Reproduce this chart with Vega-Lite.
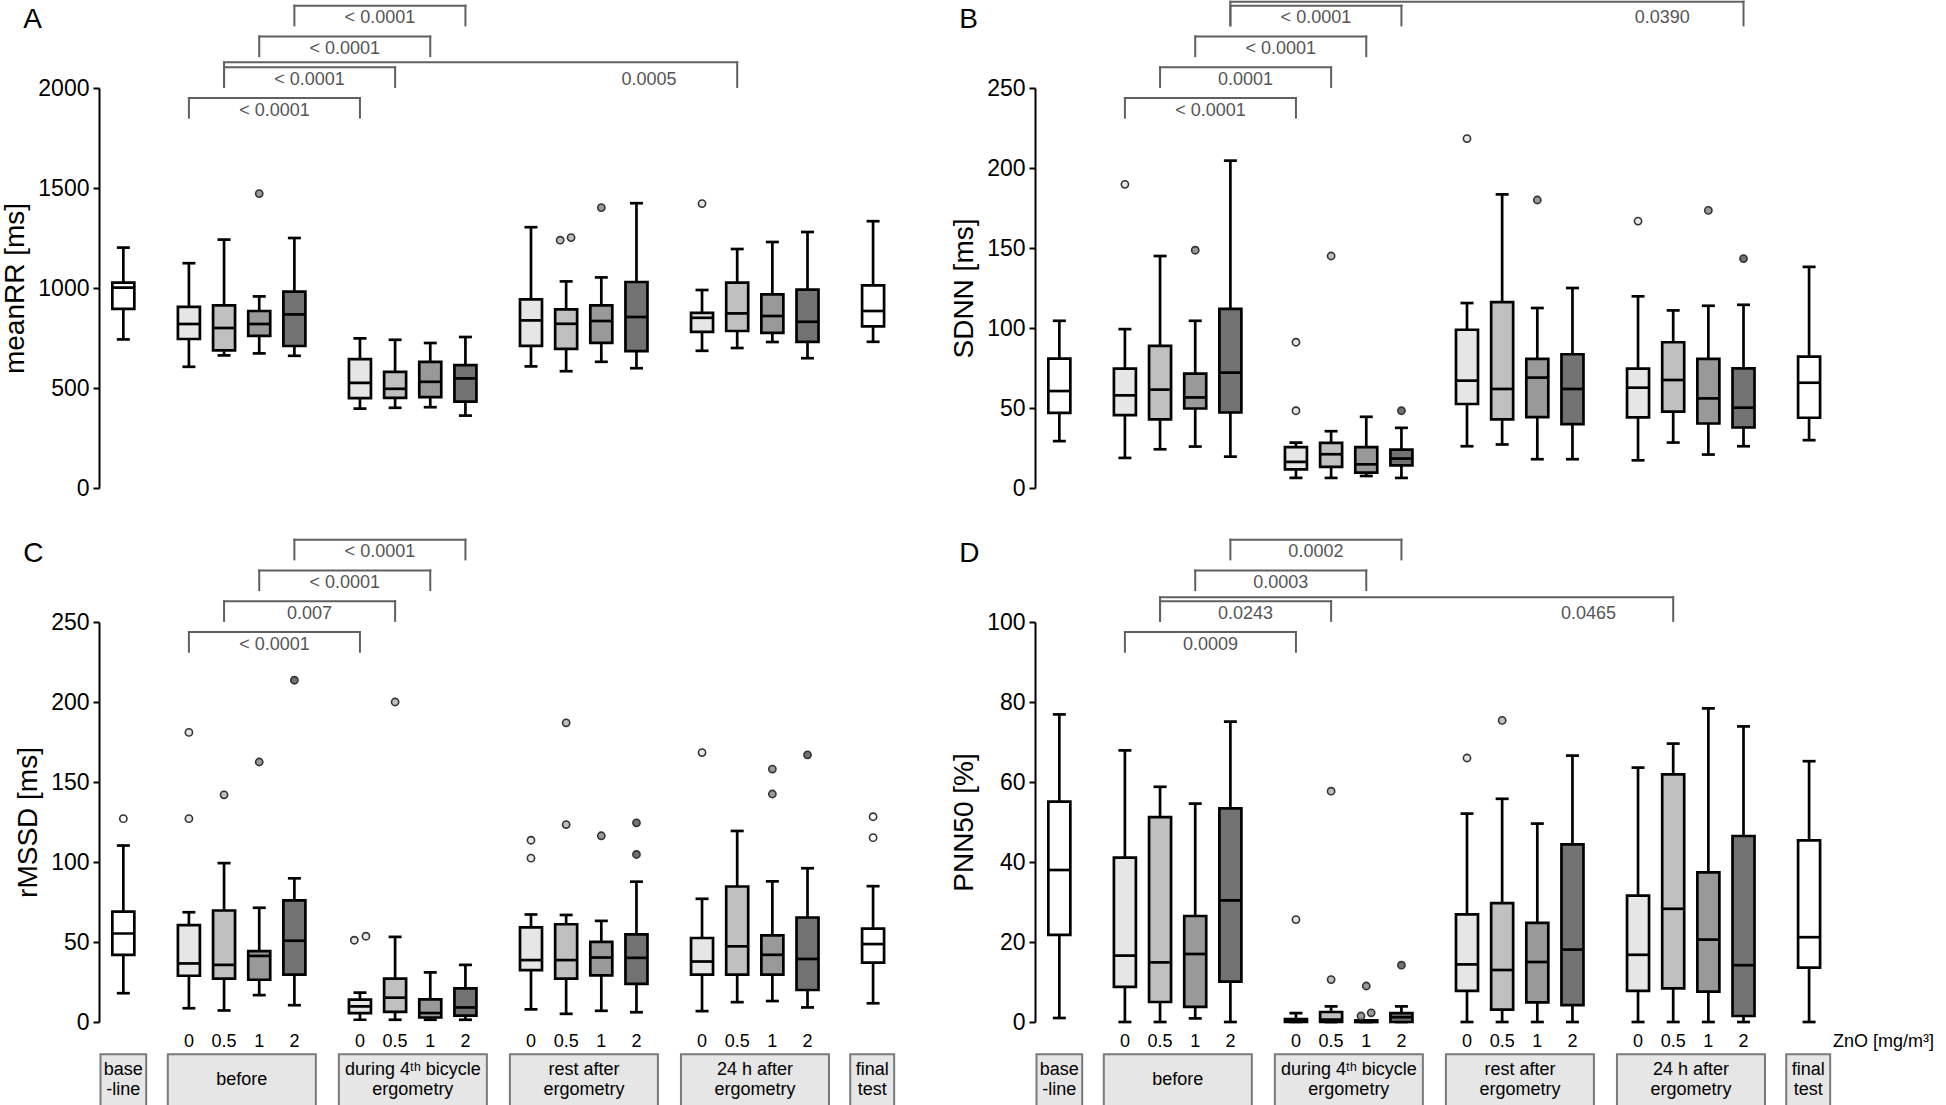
{
 "$schema": "https://vega.github.io/schema/vega-lite/v6.json",
 "padding": {"left": 1, "top": 0, "right": 0, "bottom": 0},
 "background": "white",
 "config": {
  "font": "Liberation Sans",
  "view": {"stroke": null},
  "axis": {"grid": false, "domainColor": "black", "domainWidth": 2, "tickColor": "black", "tickWidth": 2, "labelColor": "black", "titleColor": "black", "titleFontWeight": "normal", "labelFont": "Liberation Sans", "titleFont": "Liberation Sans"},
  "axisY": {"labelFontSize": 23, "tickSize": 6, "labelPadding": 4, "titleFontSize": 28, "titlePadding": 8, "format": "d"},
  "axisX": {"labelFontSize": 18, "tickSize": 7, "labelPadding": 5, "titleFontSize": 18, "labelFlush": false, "labelOverlap": false}
 },
 "datasets": {
  "box": [
   {"p":"A","d":"n","x":0,"lo":743,"q1":896,"md":1002,"q3":1027,"hi":1202},
   {"p":"A","d":"0","x":1.865,"lo":606,"q1":745,"md":820,"q3":906,"hi":1124},
   {"p":"A","d":"0.5","x":2.865,"lo":663,"q1":688,"md":800,"q3":913,"hi":1242},
   {"p":"A","d":"1","x":3.865,"lo":673,"q1":761,"md":820,"q3":885,"hi":958},
   {"p":"A","d":"2","x":4.865,"lo":661,"q1":710,"md":868,"q3":982,"hi":1250},
   {"p":"A","d":"0","x":6.73,"lo":397,"q1":449,"md":526,"q3":644,"hi":748},
   {"p":"A","d":"0.5","x":7.73,"lo":401,"q1":451,"md":496,"q3":581,"hi":741},
   {"p":"A","d":"1","x":8.73,"lo":404,"q1":454,"md":531,"q3":631,"hi":725},
   {"p":"A","d":"2","x":9.73,"lo":362,"q1":432,"md":548,"q3":614,"hi":755},
   {"p":"A","d":"0","x":11.595,"lo":608,"q1":711,"md":838,"q3":943,"hi":1304},
   {"p":"A","d":"0.5","x":12.595,"lo":584,"q1":696,"md":821,"q3":893,"hi":1033},
   {"p":"A","d":"1","x":13.595,"lo":631,"q1":726,"md":835,"q3":913,"hi":1053},
   {"p":"A","d":"2","x":14.595,"lo":599,"q1":684,"md":855,"q3":1030,"hi":1424},
   {"p":"A","d":"0","x":16.46,"lo":686,"q1":781,"md":851,"q3":876,"hi":990},
   {"p":"A","d":"0.5","x":17.46,"lo":700,"q1":785,"md":873,"q3":1027,"hi":1195},
   {"p":"A","d":"1","x":18.46,"lo":730,"q1":776,"md":860,"q3":968,"hi":1230},
   {"p":"A","d":"2","x":19.46,"lo":649,"q1":731,"md":831,"q3":992,"hi":1280},
   {"p":"A","d":"n","x":21.325,"lo":731,"q1":808,"md":885,"q3":1013,"hi":1334},

   {"p":"B","d":"n","x":0,"lo":29.3,"q1":47,"md":60.6,"q3":80.9,"hi":104.5},
   {"p":"B","d":"0","x":1.865,"lo":18.8,"q1":45.6,"md":57.9,"q3":74.6,"hi":99.3},
   {"p":"B","d":"0.5","x":2.865,"lo":24.2,"q1":42.9,"md":61.5,"q3":88.8,"hi":145},
   {"p":"B","d":"1","x":3.865,"lo":25.9,"q1":49.7,"md":56.6,"q3":71.5,"hi":104.5},
   {"p":"B","d":"2","x":4.865,"lo":19.6,"q1":47.2,"md":72.1,"q3":112,"hi":204.6},
   {"p":"B","d":"0","x":6.73,"lo":6.3,"q1":11.7,"md":16.3,"q3":25.5,"hi":28.4},
   {"p":"B","d":"0.5","x":7.73,"lo":6.3,"q1":13.2,"md":21.1,"q3":28.2,"hi":35.5},
   {"p":"B","d":"1","x":8.73,"lo":7.5,"q1":9.6,"md":14.8,"q3":25.5,"hi":44.5},
   {"p":"B","d":"2","x":9.73,"lo":6.3,"q1":14.2,"md":18.4,"q3":24,"hi":37.6},
   {"p":"B","d":"0","x":11.595,"lo":26.1,"q1":52.5,"md":67.1,"q3":98.9,"hi":115.6},
   {"p":"B","d":"0.5","x":12.595,"lo":27.2,"q1":42.9,"md":61.9,"q3":116.2,"hi":183.5},
   {"p":"B","d":"1","x":13.595,"lo":18,"q1":44.3,"md":69,"q3":80.7,"hi":112.5},
   {"p":"B","d":"2","x":14.595,"lo":18,"q1":39.9,"md":61.9,"q3":83.6,"hi":125},
   {"p":"B","d":"0","x":16.46,"lo":17.3,"q1":44.1,"md":62.7,"q3":74.6,"hi":119.8},
   {"p":"B","d":"0.5","x":17.46,"lo":28.4,"q1":47.7,"md":67.5,"q3":91.1,"hi":111},
   {"p":"B","d":"1","x":18.46,"lo":20.9,"q1":40.3,"md":56,"q3":80.7,"hi":113.9},
   {"p":"B","d":"2","x":19.46,"lo":26.1,"q1":37.8,"md":50.2,"q3":74.8,"hi":114.5},
   {"p":"B","d":"n","x":21.325,"lo":29.9,"q1":43.9,"md":65.8,"q3":82.1,"hi":138.2},

   {"p":"C","d":"n","x":0,"lo":18,"q1":42,"md":55.3,"q3":69,"hi":110.3},
   {"p":"C","d":"0","x":1.865,"lo":8.6,"q1":28.9,"md":36.6,"q3":60.6,"hi":68.6},
   {"p":"C","d":"0.5","x":2.865,"lo":7.2,"q1":27.1,"md":35.7,"q3":69.7,"hi":99.3},
   {"p":"C","d":"1","x":3.865,"lo":16.8,"q1":26.4,"md":41.3,"q3":44.3,"hi":71.4},
   {"p":"C","d":"2","x":4.865,"lo":10.5,"q1":29.6,"md":50.8,"q3":76,"hi":89.8},
   {"p":"C","d":"0","x":6.73,"lo":1.4,"q1":5.6,"md":9.8,"q3":14,"hi":18.4},
   {"p":"C","d":"0.5","x":7.73,"lo":1.4,"q1":6.3,"md":15.2,"q3":27.1,"hi":53.2},
   {"p":"C","d":"1","x":8.73,"lo":1.4,"q1":2.8,"md":5.6,"q3":14.2,"hi":31},
   {"p":"C","d":"2","x":9.73,"lo":1.4,"q1":4,"md":9.1,"q3":21,"hi":35.7},
   {"p":"C","d":"0","x":11.595,"lo":7.9,"q1":32.4,"md":38.7,"q3":59.2,"hi":67.2},
   {"p":"C","d":"0.5","x":12.595,"lo":5.1,"q1":27.1,"md":38.7,"q3":61.1,"hi":66.9},
   {"p":"C","d":"1","x":13.595,"lo":7,"q1":29.2,"md":40.3,"q3":50.1,"hi":63.2},
   {"p":"C","d":"2","x":14.595,"lo":6.1,"q1":23.8,"md":40.1,"q3":54.8,"hi":87.7},
   {"p":"C","d":"0","x":16.46,"lo":6.8,"q1":29.6,"md":37.8,"q3":52.5,"hi":77},
   {"p":"C","d":"0.5","x":17.46,"lo":12.4,"q1":29.6,"md":47.3,"q3":84.7,"hi":119.4},
   {"p":"C","d":"1","x":18.46,"lo":13.1,"q1":29.6,"md":42,"q3":54.1,"hi":87.9},
   {"p":"C","d":"2","x":19.46,"lo":9.1,"q1":20,"md":39.4,"q3":65.3,"hi":96.1},
   {"p":"C","d":"n","x":21.325,"lo":11.7,"q1":37.1,"md":48.7,"q3":58.3,"hi":84.9},

   {"p":"D","d":"n","x":0,"lo":1,"q1":21.8,"md":38,"q3":55.1,"hi":76.9},
   {"p":"D","d":"0","x":1.865,"lo":0,"q1":8.8,"md":16.6,"q3":41.1,"hi":67.9},
   {"p":"D","d":"0.5","x":2.865,"lo":0,"q1":5,"md":14.9,"q3":51.2,"hi":58.8},
   {"p":"D","d":"1","x":3.865,"lo":0.9,"q1":3.8,"md":17,"q3":26.5,"hi":54.6},
   {"p":"D","d":"2","x":4.865,"lo":0,"q1":10.1,"md":30.4,"q3":53.4,"hi":75.1},
   {"p":"D","d":"0","x":6.73,"lo":0,"q1":0,"md":0.3,"q3":0.7,"hi":2.2},
   {"p":"D","d":"0.5","x":7.73,"lo":0,"q1":0,"md":0.6,"q3":2.5,"hi":3.9},
   {"p":"D","d":"1","x":8.73,"lo":0,"q1":0,"md":0.1,"q3":0.4,"hi":0.4},
   {"p":"D","d":"2","x":9.73,"lo":0,"q1":0,"md":1.2,"q3":2.2,"hi":3.9},
   {"p":"D","d":"0","x":11.595,"lo":0,"q1":7.8,"md":14.4,"q3":26.9,"hi":52.1},
   {"p":"D","d":"0.5","x":12.595,"lo":0,"q1":3.1,"md":13,"q3":29.7,"hi":55.8},
   {"p":"D","d":"1","x":13.595,"lo":0,"q1":4.9,"md":15,"q3":24.8,"hi":49.6},
   {"p":"D","d":"2","x":14.595,"lo":0,"q1":4.2,"md":18.1,"q3":44.4,"hi":66.6},
   {"p":"D","d":"0","x":16.46,"lo":0,"q1":7.8,"md":16.8,"q3":31.6,"hi":63.6},
   {"p":"D","d":"0.5","x":17.46,"lo":0,"q1":8.4,"md":28.3,"q3":61.9,"hi":69.6},
   {"p":"D","d":"1","x":18.46,"lo":0,"q1":7.6,"md":20.6,"q3":37.4,"hi":78.4},
   {"p":"D","d":"2","x":19.46,"lo":0,"q1":1.5,"md":14.2,"q3":46.5,"hi":73.9},
   {"p":"D","d":"n","x":21.325,"lo":0,"q1":13.6,"md":21.2,"q3":45.4,"hi":65.2}
  ],
  "out": [
   {"p":"A","d":"1","x":3.865,"v":1472},
   {"p":"A","d":"0.5","x":12.425,"v":1239},
   {"p":"A","d":"0.5","x":12.735,"v":1252},
   {"p":"A","d":"1","x":13.595,"v":1402},
   {"p":"A","d":"0","x":16.46,"v":1422},
   {"p":"B","d":"0","x":1.865,"v":189.8},
   {"p":"B","d":"1","x":3.865,"v":148.6},
   {"p":"B","d":"0","x":6.73,"v":91.1},
   {"p":"B","d":"0","x":6.73,"v":48.3},
   {"p":"B","d":"0.5","x":7.73,"v":145},
   {"p":"B","d":"2","x":9.73,"v":48.3},
   {"p":"B","d":"0","x":11.595,"v":218.4},
   {"p":"B","d":"1","x":13.595,"v":180},
   {"p":"B","d":"0","x":16.46,"v":166.8},
   {"p":"B","d":"1","x":18.46,"v":173.5},
   {"p":"B","d":"2","x":19.46,"v":143.4},
   {"p":"C","d":"n","x":0,"v":127.1},
   {"p":"C","d":"0","x":1.865,"v":181},
   {"p":"C","d":"0","x":1.865,"v":127.1},
   {"p":"C","d":"0.5","x":2.865,"v":142},
   {"p":"C","d":"1","x":3.865,"v":162.5},
   {"p":"C","d":"2","x":4.865,"v":213.6},
   {"p":"C","d":"0","x":6.57,"v":51.1},
   {"p":"C","d":"0","x":6.9,"v":53.6},
   {"p":"C","d":"0.5","x":7.73,"v":200},
   {"p":"C","d":"0","x":11.595,"v":113.6},
   {"p":"C","d":"0","x":11.595,"v":102.4},
   {"p":"C","d":"0.5","x":12.595,"v":187},
   {"p":"C","d":"0.5","x":12.595,"v":123.4},
   {"p":"C","d":"1","x":13.595,"v":116.4},
   {"p":"C","d":"2","x":14.595,"v":124.5},
   {"p":"C","d":"2","x":14.595,"v":104.7},
   {"p":"C","d":"0","x":16.46,"v":168.4},
   {"p":"C","d":"1","x":18.46,"v":158.1},
   {"p":"C","d":"1","x":18.46,"v":142.5},
   {"p":"C","d":"2","x":19.46,"v":167},
   {"p":"C","d":"n","x":21.325,"v":128.3},
   {"p":"C","d":"n","x":21.325,"v":115.2},
   {"p":"D","d":"0","x":6.73,"v":25.6},
   {"p":"D","d":"0.5","x":7.73,"v":57.7},
   {"p":"D","d":"0.5","x":7.73,"v":10.6},
   {"p":"D","d":"1","x":8.58,"v":1.5},
   {"p":"D","d":"1","x":8.87,"v":2.3},
   {"p":"D","d":"1","x":8.73,"v":9},
   {"p":"D","d":"2","x":9.73,"v":14.2},
   {"p":"D","d":"0","x":11.595,"v":66},
   {"p":"D","d":"0.5","x":12.595,"v":75.4}
  ],
  "br": [
   {"p":"A","x1":1.865,"x2":6.73,"lv":1,"tb":0.36,"tv":1,"tx":4.2975,"t":"< 0.0001"},
   {"p":"A","x1":2.865,"x2":7.73,"lv":2,"tb":1.36,"tv":2,"tx":5.2975,"t":"< 0.0001"},
   {"p":"A","x1":2.865,"x2":17.46,"lv":2.16,"tb":1.36,"tv":2,"tx":14.95,"t":"0.0005"},
   {"p":"A","x1":3.865,"x2":8.73,"lv":3,"tb":2.36,"tv":3,"tx":6.2975,"t":"< 0.0001"},
   {"p":"A","x1":4.865,"x2":9.73,"lv":4,"tb":3.36,"tv":4,"tx":7.2975,"t":"< 0.0001"},
   {"p":"B","x1":1.865,"x2":6.73,"lv":1,"tb":0.36,"tv":1,"tx":4.2975,"t":"< 0.0001"},
   {"p":"B","x1":2.865,"x2":7.73,"lv":2,"tb":1.36,"tv":2,"tx":5.2975,"t":"0.0001"},
   {"p":"B","x1":3.865,"x2":8.73,"lv":3,"tb":2.36,"tv":3,"tx":6.2975,"t":"< 0.0001"},
   {"p":"B","x1":4.865,"x2":9.73,"lv":4,"tb":3.36,"tv":4,"tx":7.2975,"t":"< 0.0001"},
   {"p":"B","x1":4.865,"x2":19.46,"lv":4.13,"tb":3.36,"tv":4,"tx":17.15,"t":"0.0390"},
   {"p":"C","x1":1.865,"x2":6.73,"lv":1,"tb":0.36,"tv":1,"tx":4.2975,"t":"< 0.0001"},
   {"p":"C","x1":2.865,"x2":7.73,"lv":2,"tb":1.36,"tv":2,"tx":5.2975,"t":"0.007"},
   {"p":"C","x1":3.865,"x2":8.73,"lv":3,"tb":2.36,"tv":3,"tx":6.2975,"t":"< 0.0001"},
   {"p":"C","x1":4.865,"x2":9.73,"lv":4,"tb":3.36,"tv":4,"tx":7.2975,"t":"< 0.0001"},
   {"p":"D","x1":1.865,"x2":6.73,"lv":1,"tb":0.36,"tv":1,"tx":4.2975,"t":"0.0009"},
   {"p":"D","x1":2.865,"x2":7.73,"lv":2,"tb":1.36,"tv":2,"tx":5.2975,"t":"0.0243"},
   {"p":"D","x1":2.865,"x2":17.46,"lv":2.13,"tb":1.36,"tv":2,"tx":15.05,"t":"0.0465"},
   {"p":"D","x1":3.865,"x2":8.73,"lv":3,"tb":2.36,"tv":3,"tx":6.2975,"t":"0.0003"},
   {"p":"D","x1":4.865,"x2":9.73,"lv":4,"tb":3.36,"tv":4,"tx":7.2975,"t":"0.0002"}
  ],
  "grp": [
   {"g":"base","n":2,"x1":-0.65,"x2":0.65,"xc":0,"lab":"base\n-line"},
   {"g":"before","n":1,"x1":1.265,"x2":5.475,"xc":3.37,"lab":"before"},
   {"g":"during","n":2,"x1":6.13,"x2":10.34,"xc":8.235,"lab":"during 4ᵗʰ bicycle\nergometry"},
   {"g":"rest","n":2,"x1":10.995,"x2":15.205,"xc":13.1,"lab":"rest after\nergometry"},
   {"g":"24h","n":2,"x1":15.86,"x2":20.07,"xc":17.965,"lab":"24 h after\nergometry"},
   {"g":"final","n":2,"x1":20.675,"x2":21.925,"xc":21.3,"lab":"final\ntest"}
  ]
 },
 "columns": 2,
 "spacing": {"row": 134, "column": 136},
 "bounds": "flush",
 "resolve": {"scale": {"x": "independent", "y": "independent"}, "axis": {"x": "independent", "y": "independent"}},
 "concat": [
  {
   "width": 800, "height": 400,
   "resolve": {"scale": {"y": "independent"}},
   "layer": [
    {
     "encoding": {"x": {"field": "x", "type": "quantitative", "scale": {"domain": [-0.55, 21.92], "nice": false, "zero": false}, "axis": {"values": [0,1.865,2.865,3.865,4.865,6.73,7.73,8.73,9.73,11.595,12.595,13.595,14.595,16.46,17.46,18.46,19.46,21.325], "labels": false, "title": null}}},
     "layer": [
      {"data": {"name": "box"}, "transform": [{"filter": "datum.p === 'A'"}], "mark": {"type": "rule", "color": "black", "strokeWidth": 2.7},
       "encoding": {"y": {"field": "lo", "type": "quantitative", "scale": {"domain": [0, 2000], "nice": false}, "axis": {"title": "meanRR [ms]", "values": [0, 500, 1000, 1500, 2000]}}, "y2": {"field": "hi"}}},
      {"data": {"name": "box"}, "transform": [{"filter": "datum.p === 'A'"}], "mark": {"type": "tick", "orient": "horizontal", "color": "black", "thickness": 2.7, "size": 13, "opacity": 1},
       "encoding": {"y": {"field": "lo", "type": "quantitative", "axis": {"title": "meanRR [ms]"}}}},
      {"data": {"name": "box"}, "transform": [{"filter": "datum.p === 'A'"}], "mark": {"type": "tick", "orient": "horizontal", "color": "black", "thickness": 2.7, "size": 13, "opacity": 1},
       "encoding": {"y": {"field": "hi", "type": "quantitative", "axis": {"title": "meanRR [ms]"}}}},
      {"data": {"name": "box"}, "transform": [{"filter": "datum.p === 'A'"}], "mark": {"type": "bar", "width": 22, "stroke": "black", "strokeWidth": 2.7},
       "encoding": {"y": {"field": "q1", "type": "quantitative", "axis": {"title": "meanRR [ms]"}}, "y2": {"field": "q3"}, "fill": {"field": "d", "type": "nominal", "scale": {"domain": ["n","0","0.5","1","2"], "range": ["#ffffff","#e6e6e6","#c0c0c0","#999999","#727272"]}, "legend": null}}},
      {"data": {"name": "box"}, "transform": [{"filter": "datum.p === 'A'"}], "mark": {"type": "tick", "orient": "horizontal", "color": "black", "thickness": 2.7, "size": 22, "opacity": 1},
       "encoding": {"y": {"field": "md", "type": "quantitative", "axis": {"title": "meanRR [ms]"}}}},
      {"data": {"name": "out"}, "transform": [{"filter": "datum.p === 'A'"}], "mark": {"type": "point", "shape": "circle", "filled": true, "size": 52, "stroke": "#333333", "strokeWidth": 1.6, "opacity": 1},
       "encoding": {"y": {"field": "v", "type": "quantitative", "axis": {"title": "meanRR [ms]"}}, "fill": {"field": "d", "type": "nominal", "legend": null}}}
     ]
    },
    {
     "layer": [
      {"data": {"name": "br"}, "transform": [{"filter": "datum.p === 'A'"}], "mark": {"type": "rule", "color": "#606060", "strokeWidth": 2, "strokeCap": "square"},
       "encoding": {"x": {"field": "x1", "type": "quantitative", "scale": {"domain": [-0.55, 21.92], "nice": false, "zero": false}, "axis": null}, "x2": {"field": "x2"}, "y": {"field": "lv", "type": "quantitative", "scale": {"domain": [-11.675, 1.325], "nice": false, "zero": false}, "axis": null}}},
      {"data": {"name": "br"}, "transform": [{"filter": "datum.p === 'A'"}], "mark": {"type": "rule", "color": "#606060", "strokeWidth": 2, "strokeCap": "square"},
       "encoding": {"x": {"field": "x1", "type": "quantitative", "scale": {"domain": [-0.55, 21.92], "nice": false, "zero": false}, "axis": null}, "y": {"field": "tb", "type": "quantitative", "scale": {"domain": [-11.675, 1.325], "nice": false, "zero": false}, "axis": null}, "y2": {"field": "lv"}}},
      {"data": {"name": "br"}, "transform": [{"filter": "datum.p === 'A'"}], "mark": {"type": "rule", "color": "#606060", "strokeWidth": 2, "strokeCap": "square"},
       "encoding": {"x": {"field": "x2", "type": "quantitative", "scale": {"domain": [-0.55, 21.92], "nice": false, "zero": false}, "axis": null}, "y": {"field": "tb", "type": "quantitative", "scale": {"domain": [-11.675, 1.325], "nice": false, "zero": false}, "axis": null}, "y2": {"field": "lv"}}},
      {"data": {"name": "br"}, "transform": [{"filter": "datum.p === 'A'"}], "mark": {"type": "text", "color": "#555555", "fontSize": 18, "dy": 12.5, "baseline": "middle"},
       "encoding": {"x": {"field": "tx", "type": "quantitative", "scale": {"domain": [-0.55, 21.92], "nice": false, "zero": false}, "axis": null}, "y": {"field": "tv", "type": "quantitative", "scale": {"domain": [-11.675, 1.325], "nice": false, "zero": false}, "axis": null}, "text": {"field": "t"}}},
      {"data": {"values": [{"k": "A"}]}, "mark": {"type": "text", "fontSize": 28, "align": "left", "baseline": "alphabetic", "color": "black"},
       "encoding": {"x": {"datum": -2.85, "type": "quantitative", "scale": {"domain": [-0.55, 21.92], "nice": false, "zero": false}, "axis": null}, "y": {"datum": 3.285, "type": "quantitative", "scale": {"domain": [-11.675, 1.325], "nice": false, "zero": false}, "axis": null}, "text": {"field": "k"}}}
     ]
    }
   ]
  },
  {
   "width": 800, "height": 400,
   "resolve": {"scale": {"y": "independent"}},
   "layer": [
    {
     "encoding": {"x": {"field": "x", "type": "quantitative", "scale": {"domain": [-0.55, 21.92], "nice": false, "zero": false}, "axis": {"values": [0,1.865,2.865,3.865,4.865,6.73,7.73,8.73,9.73,11.595,12.595,13.595,14.595,16.46,17.46,18.46,19.46,21.325], "labels": false, "title": null}}},
     "layer": [
      {"data": {"name": "box"}, "transform": [{"filter": "datum.p === 'B'"}], "mark": {"type": "rule", "color": "black", "strokeWidth": 2.7},
       "encoding": {"y": {"field": "lo", "type": "quantitative", "scale": {"domain": [0, 250], "nice": false}, "axis": {"title": "SDNN [ms]", "values": [0, 50, 100, 150, 200, 250]}}, "y2": {"field": "hi"}}},
      {"data": {"name": "box"}, "transform": [{"filter": "datum.p === 'B'"}], "mark": {"type": "tick", "orient": "horizontal", "color": "black", "thickness": 2.7, "size": 13, "opacity": 1},
       "encoding": {"y": {"field": "lo", "type": "quantitative", "axis": {"title": "SDNN [ms]"}}}},
      {"data": {"name": "box"}, "transform": [{"filter": "datum.p === 'B'"}], "mark": {"type": "tick", "orient": "horizontal", "color": "black", "thickness": 2.7, "size": 13, "opacity": 1},
       "encoding": {"y": {"field": "hi", "type": "quantitative", "axis": {"title": "SDNN [ms]"}}}},
      {"data": {"name": "box"}, "transform": [{"filter": "datum.p === 'B'"}], "mark": {"type": "bar", "width": 22, "stroke": "black", "strokeWidth": 2.7},
       "encoding": {"y": {"field": "q1", "type": "quantitative", "axis": {"title": "SDNN [ms]"}}, "y2": {"field": "q3"}, "fill": {"field": "d", "type": "nominal", "scale": {"domain": ["n","0","0.5","1","2"], "range": ["#ffffff","#e6e6e6","#c0c0c0","#999999","#727272"]}, "legend": null}}},
      {"data": {"name": "box"}, "transform": [{"filter": "datum.p === 'B'"}], "mark": {"type": "tick", "orient": "horizontal", "color": "black", "thickness": 2.7, "size": 22, "opacity": 1},
       "encoding": {"y": {"field": "md", "type": "quantitative", "axis": {"title": "SDNN [ms]"}}}},
      {"data": {"name": "out"}, "transform": [{"filter": "datum.p === 'B'"}], "mark": {"type": "point", "shape": "circle", "filled": true, "size": 52, "stroke": "#333333", "strokeWidth": 1.6, "opacity": 1},
       "encoding": {"y": {"field": "v", "type": "quantitative", "axis": {"title": "SDNN [ms]"}}, "fill": {"field": "d", "type": "nominal", "legend": null}}}
     ]
    },
    {
     "layer": [
      {"data": {"name": "br"}, "transform": [{"filter": "datum.p === 'B'"}], "mark": {"type": "rule", "color": "#606060", "strokeWidth": 2, "strokeCap": "square"},
       "encoding": {"x": {"field": "x1", "type": "quantitative", "scale": {"domain": [-0.55, 21.92], "nice": false, "zero": false}, "axis": null}, "x2": {"field": "x2"}, "y": {"field": "lv", "type": "quantitative", "scale": {"domain": [-11.675, 1.325], "nice": false, "zero": false}, "axis": null}}},
      {"data": {"name": "br"}, "transform": [{"filter": "datum.p === 'B'"}], "mark": {"type": "rule", "color": "#606060", "strokeWidth": 2, "strokeCap": "square"},
       "encoding": {"x": {"field": "x1", "type": "quantitative", "scale": {"domain": [-0.55, 21.92], "nice": false, "zero": false}, "axis": null}, "y": {"field": "tb", "type": "quantitative", "scale": {"domain": [-11.675, 1.325], "nice": false, "zero": false}, "axis": null}, "y2": {"field": "lv"}}},
      {"data": {"name": "br"}, "transform": [{"filter": "datum.p === 'B'"}], "mark": {"type": "rule", "color": "#606060", "strokeWidth": 2, "strokeCap": "square"},
       "encoding": {"x": {"field": "x2", "type": "quantitative", "scale": {"domain": [-0.55, 21.92], "nice": false, "zero": false}, "axis": null}, "y": {"field": "tb", "type": "quantitative", "scale": {"domain": [-11.675, 1.325], "nice": false, "zero": false}, "axis": null}, "y2": {"field": "lv"}}},
      {"data": {"name": "br"}, "transform": [{"filter": "datum.p === 'B'"}], "mark": {"type": "text", "color": "#555555", "fontSize": 18, "dy": 12.5, "baseline": "middle"},
       "encoding": {"x": {"field": "tx", "type": "quantitative", "scale": {"domain": [-0.55, 21.92], "nice": false, "zero": false}, "axis": null}, "y": {"field": "tv", "type": "quantitative", "scale": {"domain": [-11.675, 1.325], "nice": false, "zero": false}, "axis": null}, "text": {"field": "t"}}},
      {"data": {"values": [{"k": "B"}]}, "mark": {"type": "text", "fontSize": 28, "align": "left", "baseline": "alphabetic", "color": "black"},
       "encoding": {"x": {"datum": -2.85, "type": "quantitative", "scale": {"domain": [-0.55, 21.92], "nice": false, "zero": false}, "axis": null}, "y": {"datum": 3.285, "type": "quantitative", "scale": {"domain": [-11.675, 1.325], "nice": false, "zero": false}, "axis": null}, "text": {"field": "k"}}}
     ]
    }
   ]
  },
  {
   "width": 800, "height": 400,
   "resolve": {"scale": {"y": "independent"}},
   "layer": [
    {
     "encoding": {"x": {"field": "x", "type": "quantitative", "scale": {"domain": [-0.55, 21.92], "nice": false, "zero": false}, "axis": {"values": [0,1.865,2.865,3.865,4.865,6.73,7.73,8.73,9.73,11.595,12.595,13.595,14.595,16.46,17.46,18.46,19.46,21.325], "labels": false, "title": null}}},
     "layer": [
      {"data": {"name": "box"}, "transform": [{"filter": "datum.p === 'C'"}], "mark": {"type": "rule", "color": "black", "strokeWidth": 2.7},
       "encoding": {"y": {"field": "lo", "type": "quantitative", "scale": {"domain": [0, 250], "nice": false}, "axis": {"title": "rMSSD [ms]", "values": [0, 50, 100, 150, 200, 250]}}, "y2": {"field": "hi"}}},
      {"data": {"name": "box"}, "transform": [{"filter": "datum.p === 'C'"}], "mark": {"type": "tick", "orient": "horizontal", "color": "black", "thickness": 2.7, "size": 13, "opacity": 1},
       "encoding": {"y": {"field": "lo", "type": "quantitative", "axis": {"title": "rMSSD [ms]"}}}},
      {"data": {"name": "box"}, "transform": [{"filter": "datum.p === 'C'"}], "mark": {"type": "tick", "orient": "horizontal", "color": "black", "thickness": 2.7, "size": 13, "opacity": 1},
       "encoding": {"y": {"field": "hi", "type": "quantitative", "axis": {"title": "rMSSD [ms]"}}}},
      {"data": {"name": "box"}, "transform": [{"filter": "datum.p === 'C'"}], "mark": {"type": "bar", "width": 22, "stroke": "black", "strokeWidth": 2.7},
       "encoding": {"y": {"field": "q1", "type": "quantitative", "axis": {"title": "rMSSD [ms]"}}, "y2": {"field": "q3"}, "fill": {"field": "d", "type": "nominal", "scale": {"domain": ["n","0","0.5","1","2"], "range": ["#ffffff","#e6e6e6","#c0c0c0","#999999","#727272"]}, "legend": null}}},
      {"data": {"name": "box"}, "transform": [{"filter": "datum.p === 'C'"}], "mark": {"type": "tick", "orient": "horizontal", "color": "black", "thickness": 2.7, "size": 22, "opacity": 1},
       "encoding": {"y": {"field": "md", "type": "quantitative", "axis": {"title": "rMSSD [ms]"}}}},
      {"data": {"name": "out"}, "transform": [{"filter": "datum.p === 'C'"}], "mark": {"type": "point", "shape": "circle", "filled": true, "size": 52, "stroke": "#333333", "strokeWidth": 1.6, "opacity": 1},
       "encoding": {"y": {"field": "v", "type": "quantitative", "axis": {"title": "rMSSD [ms]"}}, "fill": {"field": "d", "type": "nominal", "legend": null}}}
     ]
    },
    {
     "layer": [
      {"data": {"name": "br"}, "transform": [{"filter": "datum.p === 'C'"}], "mark": {"type": "rule", "color": "#606060", "strokeWidth": 2, "strokeCap": "square"},
       "encoding": {"x": {"field": "x1", "type": "quantitative", "scale": {"domain": [-0.55, 21.92], "nice": false, "zero": false}, "axis": null}, "x2": {"field": "x2"}, "y": {"field": "lv", "type": "quantitative", "scale": {"domain": [-11.675, 1.325], "nice": false, "zero": false}, "axis": null}}},
      {"data": {"name": "br"}, "transform": [{"filter": "datum.p === 'C'"}], "mark": {"type": "rule", "color": "#606060", "strokeWidth": 2, "strokeCap": "square"},
       "encoding": {"x": {"field": "x1", "type": "quantitative", "scale": {"domain": [-0.55, 21.92], "nice": false, "zero": false}, "axis": null}, "y": {"field": "tb", "type": "quantitative", "scale": {"domain": [-11.675, 1.325], "nice": false, "zero": false}, "axis": null}, "y2": {"field": "lv"}}},
      {"data": {"name": "br"}, "transform": [{"filter": "datum.p === 'C'"}], "mark": {"type": "rule", "color": "#606060", "strokeWidth": 2, "strokeCap": "square"},
       "encoding": {"x": {"field": "x2", "type": "quantitative", "scale": {"domain": [-0.55, 21.92], "nice": false, "zero": false}, "axis": null}, "y": {"field": "tb", "type": "quantitative", "scale": {"domain": [-11.675, 1.325], "nice": false, "zero": false}, "axis": null}, "y2": {"field": "lv"}}},
      {"data": {"name": "br"}, "transform": [{"filter": "datum.p === 'C'"}], "mark": {"type": "text", "color": "#555555", "fontSize": 18, "dy": 12.5, "baseline": "middle"},
       "encoding": {"x": {"field": "tx", "type": "quantitative", "scale": {"domain": [-0.55, 21.92], "nice": false, "zero": false}, "axis": null}, "y": {"field": "tv", "type": "quantitative", "scale": {"domain": [-11.675, 1.325], "nice": false, "zero": false}, "axis": null}, "text": {"field": "t"}}},
      {"data": {"values": [{"k": "C"}]}, "mark": {"type": "text", "fontSize": 28, "align": "left", "baseline": "alphabetic", "color": "black"},
       "encoding": {"x": {"datum": -2.85, "type": "quantitative", "scale": {"domain": [-0.55, 21.92], "nice": false, "zero": false}, "axis": null}, "y": {"datum": 3.285, "type": "quantitative", "scale": {"domain": [-11.675, 1.325], "nice": false, "zero": false}, "axis": null}, "text": {"field": "k"}}},
      {"data": {"name": "box"}, "transform": [{"filter": "datum.p === 'C' && datum.d !== 'n'"}], "mark": {"type": "text", "fontSize": 18, "baseline": "middle", "color": "black"},
       "encoding": {"x": {"field": "x", "type": "quantitative", "scale": {"domain": [-0.55, 21.92], "nice": false, "zero": false}, "axis": null}, "y": {"datum": -12.325, "type": "quantitative", "scale": {"domain": [-11.675, 1.325], "nice": false, "zero": false}, "axis": null}, "text": {"field": "d"}}},
      {"data": {"name": "grp"}, "mark": {"type": "rect", "fill": "#e6e6e6", "stroke": "#7a7a7a", "strokeWidth": 2},
       "encoding": {"x": {"field": "x1", "type": "quantitative", "scale": {"domain": [-0.55, 21.92], "nice": false, "zero": false}, "axis": null}, "x2": {"field": "x2"}, "y": {"datum": -12.725, "type": "quantitative", "scale": {"domain": [-11.675, 1.325], "nice": false, "zero": false}, "axis": null}, "y2": {"datum": -14.6}}},
      {"data": {"name": "grp"}, "transform": [{"filter": "datum.n === 2"}], "mark": {"type": "text", "fontSize": 18, "lineBreak": "\n", "lineHeight": 20, "baseline": "middle", "color": "black"},
       "encoding": {"x": {"field": "xc", "type": "quantitative", "scale": {"domain": [-0.55, 21.92], "nice": false, "zero": false}, "axis": null}, "y": {"datum": -13.245, "type": "quantitative", "scale": {"domain": [-11.675, 1.325], "nice": false, "zero": false}, "axis": null}, "text": {"field": "lab"}}},
      {"data": {"name": "grp"}, "transform": [{"filter": "datum.n === 1"}], "mark": {"type": "text", "fontSize": 18, "baseline": "middle", "color": "black"},
       "encoding": {"x": {"field": "xc", "type": "quantitative", "scale": {"domain": [-0.55, 21.92], "nice": false, "zero": false}, "axis": null}, "y": {"datum": -13.57, "type": "quantitative", "scale": {"domain": [-11.675, 1.325], "nice": false, "zero": false}, "axis": null}, "text": {"field": "lab"}}}
     ]
    }
   ]
  },
  {
   "width": 800, "height": 400,
   "resolve": {"scale": {"y": "independent"}},
   "layer": [
    {
     "encoding": {"x": {"field": "x", "type": "quantitative", "scale": {"domain": [-0.55, 21.92], "nice": false, "zero": false}, "axis": {"values": [0,1.865,2.865,3.865,4.865,6.73,7.73,8.73,9.73,11.595,12.595,13.595,14.595,16.46,17.46,18.46,19.46,21.325], "labels": false, "title": null}}},
     "layer": [
      {"data": {"name": "box"}, "transform": [{"filter": "datum.p === 'D'"}], "mark": {"type": "rule", "color": "black", "strokeWidth": 2.7},
       "encoding": {"y": {"field": "lo", "type": "quantitative", "scale": {"domain": [0, 100], "nice": false}, "axis": {"title": "PNN50 [%]", "values": [0, 20, 40, 60, 80, 100]}}, "y2": {"field": "hi"}}},
      {"data": {"name": "box"}, "transform": [{"filter": "datum.p === 'D'"}], "mark": {"type": "tick", "orient": "horizontal", "color": "black", "thickness": 2.7, "size": 13, "opacity": 1},
       "encoding": {"y": {"field": "lo", "type": "quantitative", "axis": {"title": "PNN50 [%]"}}}},
      {"data": {"name": "box"}, "transform": [{"filter": "datum.p === 'D'"}], "mark": {"type": "tick", "orient": "horizontal", "color": "black", "thickness": 2.7, "size": 13, "opacity": 1},
       "encoding": {"y": {"field": "hi", "type": "quantitative", "axis": {"title": "PNN50 [%]"}}}},
      {"data": {"name": "box"}, "transform": [{"filter": "datum.p === 'D'"}], "mark": {"type": "bar", "width": 22, "stroke": "black", "strokeWidth": 2.7},
       "encoding": {"y": {"field": "q1", "type": "quantitative", "axis": {"title": "PNN50 [%]"}}, "y2": {"field": "q3"}, "fill": {"field": "d", "type": "nominal", "scale": {"domain": ["n","0","0.5","1","2"], "range": ["#ffffff","#e6e6e6","#c0c0c0","#999999","#727272"]}, "legend": null}}},
      {"data": {"name": "box"}, "transform": [{"filter": "datum.p === 'D'"}], "mark": {"type": "tick", "orient": "horizontal", "color": "black", "thickness": 2.7, "size": 22, "opacity": 1},
       "encoding": {"y": {"field": "md", "type": "quantitative", "axis": {"title": "PNN50 [%]"}}}},
      {"data": {"name": "out"}, "transform": [{"filter": "datum.p === 'D'"}], "mark": {"type": "point", "shape": "circle", "filled": true, "size": 52, "stroke": "#333333", "strokeWidth": 1.6, "opacity": 1},
       "encoding": {"y": {"field": "v", "type": "quantitative", "axis": {"title": "PNN50 [%]"}}, "fill": {"field": "d", "type": "nominal", "legend": null}}}
     ]
    },
    {
     "layer": [
      {"data": {"name": "br"}, "transform": [{"filter": "datum.p === 'D'"}], "mark": {"type": "rule", "color": "#606060", "strokeWidth": 2, "strokeCap": "square"},
       "encoding": {"x": {"field": "x1", "type": "quantitative", "scale": {"domain": [-0.55, 21.92], "nice": false, "zero": false}, "axis": null}, "x2": {"field": "x2"}, "y": {"field": "lv", "type": "quantitative", "scale": {"domain": [-11.675, 1.325], "nice": false, "zero": false}, "axis": null}}},
      {"data": {"name": "br"}, "transform": [{"filter": "datum.p === 'D'"}], "mark": {"type": "rule", "color": "#606060", "strokeWidth": 2, "strokeCap": "square"},
       "encoding": {"x": {"field": "x1", "type": "quantitative", "scale": {"domain": [-0.55, 21.92], "nice": false, "zero": false}, "axis": null}, "y": {"field": "tb", "type": "quantitative", "scale": {"domain": [-11.675, 1.325], "nice": false, "zero": false}, "axis": null}, "y2": {"field": "lv"}}},
      {"data": {"name": "br"}, "transform": [{"filter": "datum.p === 'D'"}], "mark": {"type": "rule", "color": "#606060", "strokeWidth": 2, "strokeCap": "square"},
       "encoding": {"x": {"field": "x2", "type": "quantitative", "scale": {"domain": [-0.55, 21.92], "nice": false, "zero": false}, "axis": null}, "y": {"field": "tb", "type": "quantitative", "scale": {"domain": [-11.675, 1.325], "nice": false, "zero": false}, "axis": null}, "y2": {"field": "lv"}}},
      {"data": {"name": "br"}, "transform": [{"filter": "datum.p === 'D'"}], "mark": {"type": "text", "color": "#555555", "fontSize": 18, "dy": 12.5, "baseline": "middle"},
       "encoding": {"x": {"field": "tx", "type": "quantitative", "scale": {"domain": [-0.55, 21.92], "nice": false, "zero": false}, "axis": null}, "y": {"field": "tv", "type": "quantitative", "scale": {"domain": [-11.675, 1.325], "nice": false, "zero": false}, "axis": null}, "text": {"field": "t"}}},
      {"data": {"values": [{"k": "D"}]}, "mark": {"type": "text", "fontSize": 28, "align": "left", "baseline": "alphabetic", "color": "black"},
       "encoding": {"x": {"datum": -2.85, "type": "quantitative", "scale": {"domain": [-0.55, 21.92], "nice": false, "zero": false}, "axis": null}, "y": {"datum": 3.285, "type": "quantitative", "scale": {"domain": [-11.675, 1.325], "nice": false, "zero": false}, "axis": null}, "text": {"field": "k"}}},
      {"data": {"name": "box"}, "transform": [{"filter": "datum.p === 'D' && datum.d !== 'n'"}], "mark": {"type": "text", "fontSize": 18, "baseline": "middle", "color": "black"},
       "encoding": {"x": {"field": "x", "type": "quantitative", "scale": {"domain": [-0.55, 21.92], "nice": false, "zero": false}, "axis": null}, "y": {"datum": -12.325, "type": "quantitative", "scale": {"domain": [-11.675, 1.325], "nice": false, "zero": false}, "axis": null}, "text": {"field": "d"}}},
      {"data": {"values": [{"k": "ZnO [mg/m³]"}]}, "mark": {"type": "text", "fontSize": 18, "align": "left", "baseline": "middle", "dx": 3, "color": "black"},
       "encoding": {"x": {"datum": 21.92, "type": "quantitative", "scale": {"domain": [-0.55, 21.92], "nice": false, "zero": false}, "axis": null}, "y": {"datum": -12.325, "type": "quantitative", "scale": {"domain": [-11.675, 1.325], "nice": false, "zero": false}, "axis": null}, "text": {"field": "k"}}},
      {"data": {"name": "grp"}, "mark": {"type": "rect", "fill": "#e6e6e6", "stroke": "#7a7a7a", "strokeWidth": 2},
       "encoding": {"x": {"field": "x1", "type": "quantitative", "scale": {"domain": [-0.55, 21.92], "nice": false, "zero": false}, "axis": null}, "x2": {"field": "x2"}, "y": {"datum": -12.725, "type": "quantitative", "scale": {"domain": [-11.675, 1.325], "nice": false, "zero": false}, "axis": null}, "y2": {"datum": -14.6}}},
      {"data": {"name": "grp"}, "transform": [{"filter": "datum.n === 2"}], "mark": {"type": "text", "fontSize": 18, "lineBreak": "\n", "lineHeight": 20, "baseline": "middle", "color": "black"},
       "encoding": {"x": {"field": "xc", "type": "quantitative", "scale": {"domain": [-0.55, 21.92], "nice": false, "zero": false}, "axis": null}, "y": {"datum": -13.245, "type": "quantitative", "scale": {"domain": [-11.675, 1.325], "nice": false, "zero": false}, "axis": null}, "text": {"field": "lab"}}},
      {"data": {"name": "grp"}, "transform": [{"filter": "datum.n === 1"}], "mark": {"type": "text", "fontSize": 18, "baseline": "middle", "color": "black"},
       "encoding": {"x": {"field": "xc", "type": "quantitative", "scale": {"domain": [-0.55, 21.92], "nice": false, "zero": false}, "axis": null}, "y": {"datum": -13.57, "type": "quantitative", "scale": {"domain": [-11.675, 1.325], "nice": false, "zero": false}, "axis": null}, "text": {"field": "lab"}}}
     ]
    }
   ]
  }
 ]
}
